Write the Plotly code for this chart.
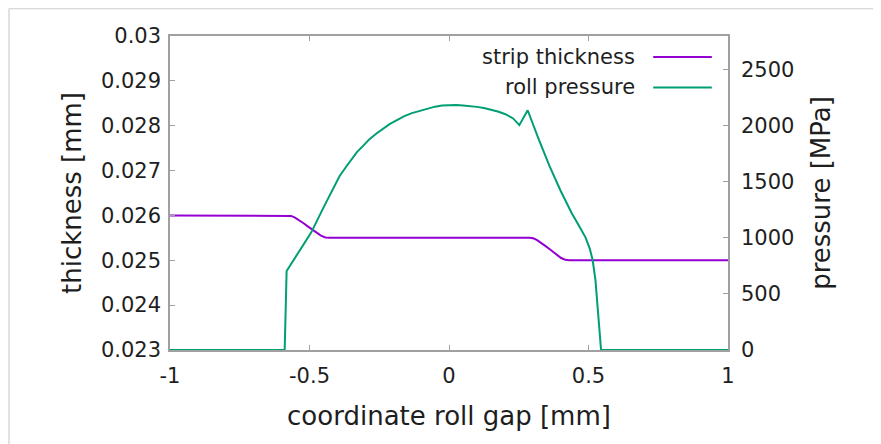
import plotly.graph_objects as go

# ---- data ----
thick_x = [-1.0, -0.583, -0.566, -0.552, -0.536, -0.52, -0.505, -0.49, -0.474, -0.459, -0.443, -0.428,
           0.288, 0.302, 0.316, 0.331, 0.345, 0.36, 0.374, 0.388, 0.402, 0.417, 0.431, 1.0]
thick_y = [0.026, 0.026, 0.02599, 0.02595, 0.02589, 0.02582, 0.02575, 0.02568, 0.02561, 0.02555, 0.02551, 0.0255,
           0.0255, 0.02549, 0.02545, 0.02539, 0.02532, 0.02525, 0.02518, 0.02511, 0.02505, 0.02501, 0.0250, 0.0250]

press_x = [-1.0, -0.589, -0.582, -0.54, -0.494, -0.45, -0.392, -0.37, -0.35, -0.33, -0.308, -0.285, -0.26,
           -0.237, -0.213, -0.185, -0.16, -0.133, -0.106, -0.08, -0.05, -0.025, 0.0, 0.025, 0.05, 0.075,
           0.1, 0.125, 0.15, 0.175, 0.2, 0.23, 0.252, 0.282,
           0.32, 0.36, 0.40, 0.44, 0.47, 0.49, 0.505, 0.515, 0.525, 0.533, 0.54, 0.545, 1.0]
press_y = [0, 0, 705, 870, 1047, 1270, 1552, 1630, 1700, 1765, 1820, 1880, 1930,
           1975, 2014, 2052, 2085, 2112, 2133, 2152, 2170, 2180, 2184, 2184, 2180, 2175,
           2168, 2158, 2145, 2127, 2105, 2065, 2005, 2138,
           1890, 1642, 1420, 1220, 1090, 1000, 900, 800, 620, 391, 180, 0, 0]

x_ticks = [-1, -0.5, 0, 0.5, 1]
x_labels = ["-1", "-0.5", "0", "0.5", "1"]
y_ticks = [0.023, 0.024, 0.025, 0.026, 0.027, 0.028, 0.029, 0.03]
y_labels = ["0.023", "0.024", "0.025", "0.026", "0.027", "0.028", "0.029", "0.03"]
y2_ticks = [0, 500, 1000, 1500, 2000, 2500]
y2_labels = ["0", "500", "1000", "1500", "2000", "2500"]

series_names = ["strip thickness", "roll pressure"]
series_colors = ["#9400d3", "#009e73"]

FONT = "DejaVu Sans"
TXT = "#1e1e1e"
AX = "#a0a0a0"

fig = go.Figure()
fig.add_trace(go.Scatter(x=thick_x, y=thick_y, mode="lines", name=series_names[0],
                         line=dict(color=series_colors[0], width=2),
                         yaxis="y", showlegend=False))
fig.add_trace(go.Scatter(x=press_x, y=press_y, mode="lines", name=series_names[1],
                         line=dict(color=series_colors[1], width=2),
                         yaxis="y2", showlegend=False))

# gnuplot-style legend: text then sample line
leg_y = [0.933, 0.836]
for name, col, ly in zip(series_names, series_colors, leg_y):
    fig.add_annotation(x=0.837, y=ly, xref="paper", yref="paper", text=name,
                       showarrow=False, xanchor="right", yanchor="middle",
                       font=dict(family=FONT, size=21, color=TXT))
    fig.add_shape(type="line", xref="paper", yref="paper", x0=0.866, x1=0.971,
                  y0=ly, y1=ly, line=dict(color=col, width=2))

# faint outer frame (top and left edges)
fig.add_shape(type="line", xref="paper", yref="paper", x0=-0.2885, x1=1.27, y0=1.0876, y1=1.0876,
              line=dict(color="#d8d8d8", width=1.5))
fig.add_shape(type="line", xref="paper", yref="paper", x0=-0.2885, x1=-0.2885, y0=1.0876, y1=-0.31,
              line=dict(color="#d8d8d8", width=1.5))

fig.update_layout(
    width=881, height=444,
    margin=dict(l=162, r=161, t=28, b=102),
    paper_bgcolor="white", plot_bgcolor="white",
    font=dict(family=FONT, size=21, color=TXT),
    xaxis=dict(range=[-1, 1], tickvals=x_ticks, ticktext=x_labels,
               ticks="inside", ticklen=5, tickcolor=AX,
               showline=True, linecolor=AX, linewidth=1.5, mirror="ticks",
               showgrid=False, zeroline=False, ticklabelstandoff=6,
               tickfont=dict(family=FONT, size=21, color=TXT),
               title=dict(text="coordinate roll gap [mm]", standoff=20,
                          font=dict(family=FONT, size=26, color=TXT))),
    yaxis=dict(range=[0.023, 0.03], tickvals=y_ticks, ticktext=y_labels,
               ticks="inside", ticklen=5, tickcolor=AX,
               showline=True, linecolor=AX, linewidth=1.5,
               showgrid=False, zeroline=False, ticklabelstandoff=3,
               tickfont=dict(family=FONT, size=21, color=TXT),
               title=dict(text="thickness [mm]", standoff=12,
                          font=dict(family=FONT, size=26, color=TXT))),
    yaxis2=dict(range=[0, 2800], tickvals=y2_ticks, ticktext=y2_labels,
                overlaying="y", side="right",
                ticks="inside", ticklen=5, tickcolor=AX,
                showline=True, linecolor=AX, linewidth=1.5,
                showgrid=False, zeroline=False, ticklabelstandoff=7,
                tickfont=dict(family=FONT, size=21, color=TXT),
                title=dict(text="pressure [MPa]", standoff=18,
                           font=dict(family=FONT, size=26, color=TXT))),
)

fig.write_html("out.html")
